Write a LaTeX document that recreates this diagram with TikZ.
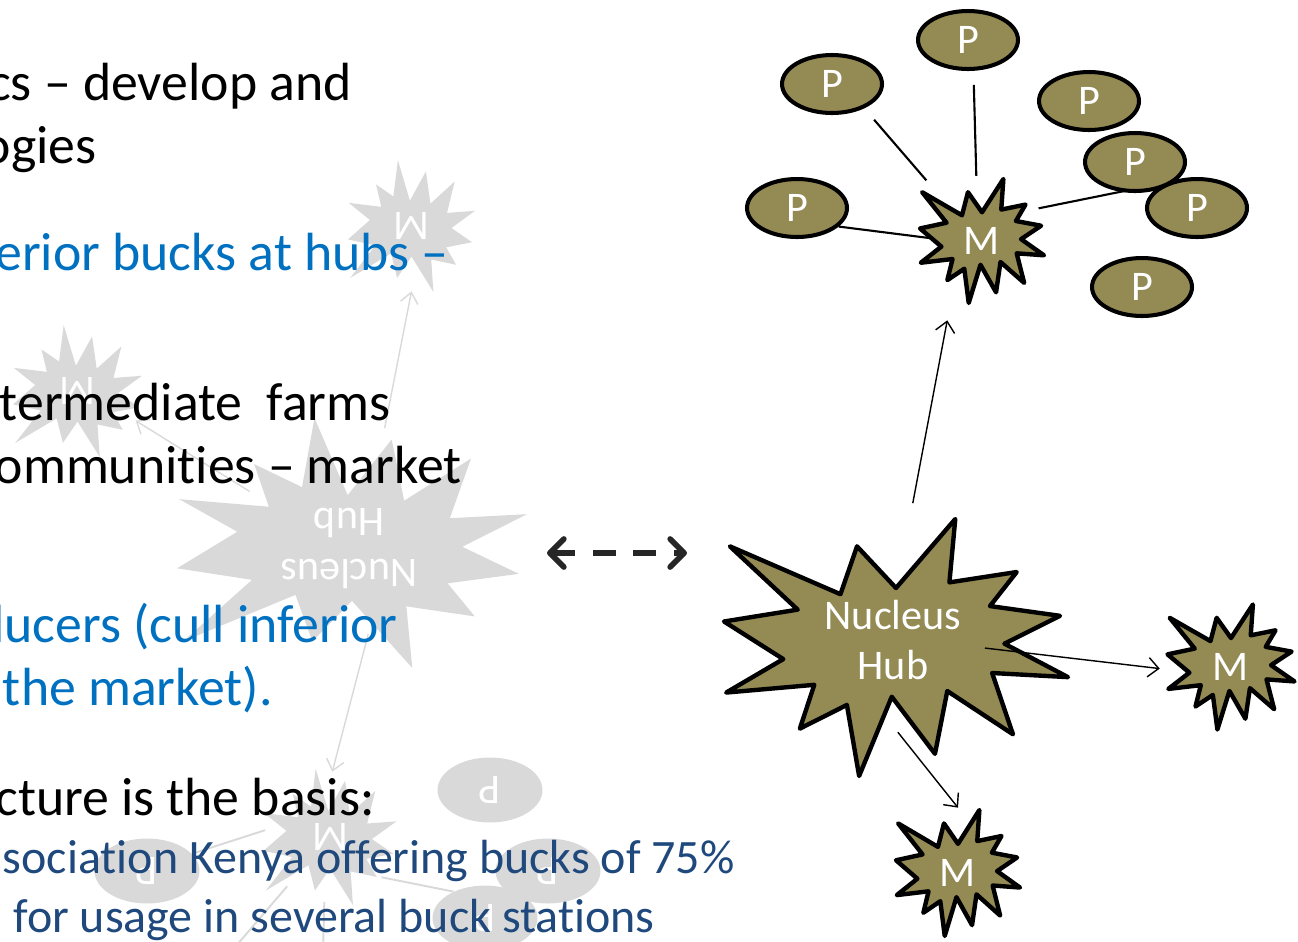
\documentclass[tikz,border=0pt]{standalone}
\usepackage{fontspec}
\setmainfont{Carlito}[Ligatures={TeX,NoCommon}]
\usetikzlibrary{arrows.meta}
\usetikzlibrary{shapes.geometric}

\definecolor{hubolive}{HTML}{948A54}
\definecolor{fadegray}{HTML}{D9D9D9}
\definecolor{slideblue}{HTML}{0070C0}
\definecolor{navyblue}{HTML}{1F497D}
\definecolor{dashgray}{HTML}{262626}

\tikzset{
    burstline/.style={fill=hubolive, draw=black, line width=2.5pt, line join=round},
    burstfade/.style={fill=fadegray},
    hubnode/.style={circle, minimum size=3.68cm, inner sep=0pt, align=center, text=white, font=\fontsize{24}{29}\selectfont},
    mnode/.style={circle, minimum size=2.6cm, inner sep=0pt, text=white, font=\fontsize{24}{29}\selectfont},
    pnode/.style={ellipse, draw=black, line width=2.3pt, fill=hubolive, minimum width=2cm, minimum height=1.16cm, inner sep=0pt, text=white, font=\fontsize{24}{29}\selectfont},
    fadep/.style={ellipse, fill=fadegray, minimum width=2.1cm, minimum height=1.3cm, inner sep=0pt, text=white, font=\fontsize{24}{29}\selectfont},
    arrowline/.style={line width=0.8pt, -{Straight Barb[length=6pt,width=11pt]}},
    fadearrow/.style={draw=fadegray, line width=0.8pt, -{Straight Barb[length=6pt,width=10pt]}},
    plink/.style={line width=1.2pt},
    fadelink/.style={draw=fadegray, line width=1.1pt},
    dashlink/.style={draw=dashgray, line width=3.2pt, dash pattern=on 13pt off 10pt,
        {Straight Barb[length=8pt,width=16pt,round]}-{Straight Barb[length=8pt,width=16pt,round]}},
    slidetext/.style={anchor=base east, inner sep=0pt, font=\fontsize{30.6}{37}\selectfont},
    subtext/.style={anchor=base east, inner sep=0pt, text=navyblue, font=\fontsize{27.3}{33}\selectfont}
}

% explosion outline centred at #2, #3 wide, #4 high (negative #4 flips it)
\newcommand{\burst}[4]{%
    \begin{scope}[shift={#2}, xscale=#3/100, yscale=#4/100]
        \path[#1] (0,-23.15) -- (17.23,-50) -- (15.53,-25.35) -- (35.09,-29.37) -- (27.32,-16.13)
            -- (47.67,-12.33) -- (31.51,-1.5) -- (50,11.53) -- (27.95,9.92) -- (34,33.77)
            -- (14.91,16.93) -- (11.33,41.38) -- (-1.24,19.14) -- (-10.72,50) -- (-14.28,22.35)
            -- (-27.95,31.56) -- (-23.76,14.52) -- (-49.37,17.53) -- (-32.77,4.51) -- (-50,-10.12)
            -- (-28.58,-14.74) -- (-48.29,-39.37) -- (-16.15,-20.74) -- (-11.33,-39.37) -- cycle;
    \end{scope}}

\begin{document}
\begin{tikzpicture}[x=0.02cm, y=-0.02cm]
    \useasboundingbox (0,0) rectangle (1298,941);
    \clip (0,0) rectangle (1298,941);

    % faded, flipped copy
    \burst{burstfade}{(352,543)}{350}{-250}
    \burst{burstfade}{(411.5,226)}{127}{-132}
    \burst{burstfade}{(77.5,391)}{129}{-132}
    \burst{burstfade}{(330,837)}{133}{-136}
    \node[hubnode] (ghub) at (349,544) {\rotatebox{180}{\begin{tabular}{@{}c@{}}Nucleus\\Hub\end{tabular}}};
    \node[mnode] (gmt) at (411.5,226) {\rotatebox{180}{M}};
    \node[mnode] (gml) at (77.5,391) {\rotatebox{180}{M}};
    \node[mnode] (gmb) at (330,837) {\rotatebox{180}{M}};
    \node[fadep] (gp1) at (490,790) {\rotatebox{180}{P}};
    \node[fadep] (gp2) at (147,871) {\rotatebox{180}{P}};
    \node[fadep] (gp3) at (548,871) {\rotatebox{180}{P}};
    \node[fadep] (gp4) at (485,918) {\rotatebox{180}{P}};
    \coordinate (gq1) at (200,988);
    \coordinate (gq2) at (322,990);
    \draw[fadearrow, shorten <=0.58cm] (ghub.71) -- (gmt.270);
    \draw[fadearrow, shorten <=0.4cm] (ghub.153) -- (gml.-27);
    \draw[fadearrow] (ghub.-78) -- (gmb.88);
    \draw[fadelink] (gmb.174) -- (gp2.21);
    \draw[fadelink] (gmb.-38) -- (gp4.140);
    \draw[fadelink] (gmb.-131) -- (gq1);
    \draw[fadelink] (gmb.-95) -- (gq2);

    \node[slidetext] (t1) at (352,100) {cs -- develop and};
    \node[slidetext] (t2) at (97,163) {ogies};
    \node[slidetext, text=slideblue] (t3) at (449,270) {erior bucks at hubs --};
    \node[slidetext] (t4) at (391,420) {termediate~~farms};
    \node[slidetext] (t5) at (462,483) {ommunities -- market};
    \node[slidetext, text=slideblue] (t6) at (398,642) {lucers (cull inferior};
    \node[slidetext, text=slideblue] (t7) at (273,705) {the market).};
    \node[slidetext] (t8) at (375,815) {cture is the basis:};
    \node[subtext] (t9) at (735,873) {sociation Kenya offering bucks of 75\%};
    \node[subtext] (t10) at (655,932) {for usage in several buck stations};

    \coordinate (dl) at (547,553);
    \coordinate (dr) at (687,553);
    \draw[dashlink] (dl) -- (dr);

    \burst{burstline}{(896,647.5)}{344}{257}
    \burst{burstline}{(982,241)}{124}{124}
    \burst{burstline}{(1231,667)}{127}{125}
    \burst{burstline}{(958,873)}{124}{126}
    \node[hubnode] (hub) at (893,640) {Nucleus\\Hub};
    \node[mnode] (mt) at (982,241) {M};
    \node[mnode] (mr) at (1231,667) {M};
    \node[mnode] (mb) at (958,873) {M};

    \node[pnode] (pA) at (832,84) {P};
    \node[pnode] (pB) at (968,40) {P};
    \node[pnode] (pC) at (1089,101) {P};
    \node[pnode] (pD) at (797,208) {P};
    \node[pnode] (pE) at (1135,162) {P};
    \node[pnode] (pF) at (1197,208) {P};
    \node[pnode] (pG) at (1142,287) {P};

    \draw[plink, shorten <=0.3cm, shorten >=0.34cm] (pA.-37) -- (mt.133);
    \draw[plink, shorten <=0.28cm] (pB.-80) -- (mt.95);
    \draw[plink, shorten >=-0.26cm] (pD.-24) -- (mt.176);
    \draw[plink, shorten >=-0.14cm] (mt.30) -- (pE.244);

    \draw[arrowline, shorten <=0.92cm, shorten >=0.44cm] (hub.83) -- (mt.242);
    \draw[arrowline, shorten >=0.12cm] (hub.-5) -- (mr.182);
    \draw[arrowline] (hub.-87) -- (mb.90);
\end{tikzpicture}
\end{document}
